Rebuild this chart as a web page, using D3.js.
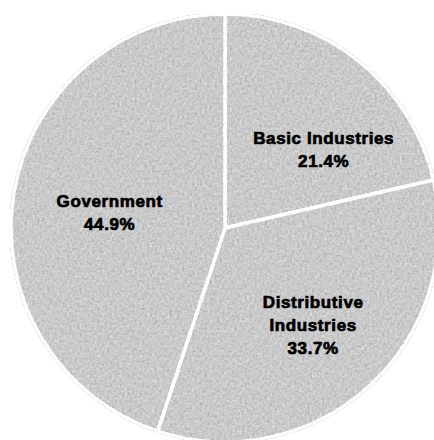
<!DOCTYPE html>
<html>
<head>
<meta charset="utf-8">
<script src="https://cdnjs.cloudflare.com/ajax/libs/d3/7.8.5/d3.min.js"></script>
<style>
  html, body { margin: 0; padding: 0; background: #fff; }
  svg { display: block; }
</style>
</head>
<body>
<div id="chart"></div>
<script>
// data
const categories = ["Basic Industries", "Distributive Industries", "Government"];
const shares = [21.4, 33.7, 44.9];
const labelLines = [
  ["Basic Industries", "21.4%"],
  ["Distributive", "Industries", "33.7%"],
  ["Government", "44.9%"]
];

// layout
const width = 434, height = 440;
const cx = 225, cy = 228, radius = 214;
const labelRadius = 128;
const labelNudge = [[19, 22], [2, 2], [11, 5]];   // hand tuning of label spots
const lineHeight = 23;

const svg = d3.select("#chart").append("svg")
  .attr("width", width)
  .attr("height", height);

// speckled, scanned look
const defs = svg.append("defs");
const grain = defs.append("filter")
  .attr("id", "grain")
  .attr("x", 0).attr("y", 0).attr("width", 1).attr("height", 1);
grain.append("feTurbulence")
  .attr("type", "fractalNoise")
  .attr("baseFrequency", 0.4)
  .attr("numOctaves", 3)
  .attr("seed", 5)
  .attr("result", "noise");
grain.append("feColorMatrix")
  .attr("in", "noise")
  .attr("type", "matrix")
  .attr("values", "0.33 0.33 0.33 0 0  0.33 0.33 0.33 0 0  0.33 0.33 0.33 0 0  0 0 0 0 1")
  .attr("result", "gray");
grain.append("feComposite")
  .attr("in", "SourceGraphic")
  .attr("in2", "gray")
  .attr("operator", "arithmetic")
  .attr("k1", 0).attr("k2", 1).attr("k3", 0.7).attr("k4", -0.35)
  .attr("result", "mix");
grain.append("feComposite")
  .attr("in", "mix")
  .attr("in2", "SourceAlpha")
  .attr("operator", "in");

const pie = d3.pie().sort(null).value(d => d);
const arcs = pie(shares);

const arc = d3.arc().innerRadius(0).outerRadius(radius);
const labelArc = d3.arc().innerRadius(labelRadius).outerRadius(labelRadius);

const g = svg.append("g").attr("transform", `translate(${cx},${cy})`);

const slices = g.append("g").attr("filter", "url(#grain)");
slices.selectAll("path")
  .data(arcs)
  .join("path")
  .attr("d", arc)
  .attr("fill", "#cacaca")
  .attr("stroke", "#ffffff")
  .attr("stroke-width", 3.5)
  .attr("stroke-linejoin", "round");

// labels
const labels = g.append("g")
  .attr("font-family", "'Liberation Sans', Arial, sans-serif")
  .attr("font-weight", "bold")
  .attr("font-size", 17)
  .attr("letter-spacing", 0.6)
  .attr("fill", "#000")
  .attr("stroke", "#000")
  .attr("stroke-width", 0.7)
  .attr("text-anchor", "middle");

labels.selectAll("text")
  .data(arcs)
  .join("text")
  .each(function(d, i) {
    const [x, y] = labelArc.centroid(d);
    const lx = x + labelNudge[i][0];
    const ly = y + labelNudge[i][1];
    const lines = labelLines[i];
    const firstY = ly - (lines.length - 1) / 2 * lineHeight + 6;
    d3.select(this).selectAll("tspan")
      .data(lines)
      .join("tspan")
      .attr("x", lx)
      .attr("y", (t, j) => firstY + j * lineHeight)
      .text(t => t);
  });
</script>
</body>
</html>
